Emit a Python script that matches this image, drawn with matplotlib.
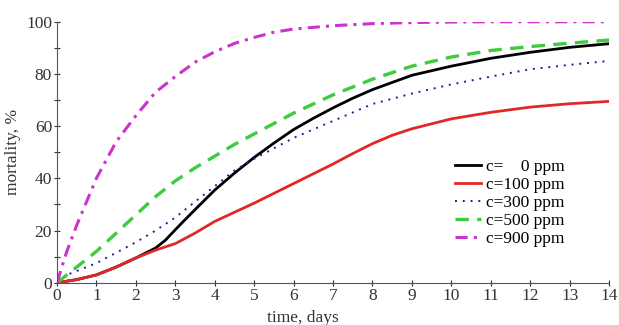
import matplotlib.pyplot as plt
import numpy as np

plt.rcParams['font.family'] = ['Liberation Serif', 'DejaVu Serif']

# values
t_c0 = [0, 0.5, 1, 1.5, 2, 2.5, 2.75, 3, 3.25, 3.5, 4, 4.5, 5, 5.5, 6, 6.5, 7, 7.5, 8, 9, 10, 11, 12, 13, 14]
m_c0 = [0, 1.2, 3, 6, 9.5, 13.3, 16.3, 20.3, 24.2, 28, 35.5, 42, 48, 53.5, 58.7, 63, 67, 70.7, 74, 79.5, 83, 86, 88.3, 90.2, 91.6]

t_c100 = [0, 0.5, 1, 1.5, 2, 2.5, 3, 3.5, 4, 5, 6, 7, 7.5, 8, 8.5, 9, 10, 11, 12, 13, 14]
m_c100 = [0, 1.2, 3, 6, 9.5, 12.5, 15, 19, 23.5, 30.5, 38, 45.5, 49.5, 53.3, 56.5, 59, 62.8, 65.3, 67.3, 68.6, 69.5]

t_c300 = [0, 0.25, 0.5, 1, 1.5, 2, 2.5, 3, 3.5, 4, 4.5, 5, 6, 7, 8, 9, 10, 11, 12, 13, 14]
m_c300 = [0, 3, 4.5, 7.5, 11.5, 15.5, 20, 25, 31, 37, 43, 47.5, 55.5, 62, 68.5, 72.5, 76, 79, 81.8, 83.5, 85]

t_c500 = [0, 0.25, 0.5, 1, 1.5, 2, 2.5, 3, 3.5, 4, 4.5, 5, 6, 7, 8, 9, 10, 11, 12, 13, 14]
m_c500 = [0, 3, 6, 12, 19, 26, 33, 39, 44, 48.5, 53, 57, 65, 72, 78, 83, 86.5, 89, 90.5, 91.8, 93]

t_c900 = [0, 0.25, 0.5, 1, 1.5, 2, 2.5, 3, 3.5, 4, 4.5, 5, 5.5, 6, 7, 8, 9, 10, 11, 12, 13, 14]
m_c900 = [0, 12, 22, 40, 54, 64, 73, 79, 84.5, 88.5, 91.7, 94, 96, 97.2, 98.5, 99.3, 99.7, 99.9, 100, 100, 100, 100]

labels = ['c=    0 ppm', 'c=100 ppm', 'c=300 ppm', 'c=500 ppm', 'c=900 ppm']

fig = plt.figure(figsize=(6.19, 3.25), dpi=100)
ax = fig.add_axes([0.092, 0.130, 0.892, 0.803])

ax.plot(t_c0, m_c0, color='black', lw=2.0, label=labels[0])
ax.plot(t_c100, m_c100, color='#e02828', lw=2.0, label=labels[1])
ax.plot(t_c300, m_c300, color='#202090', lw=1.4, ls=(0, (1, 3)), label=labels[2])
ax.plot(t_c500, m_c500, color='#3ccc3c', lw=2.4, ls=(0, (4, 2.5)), label=labels[3])
ax.plot(t_c900, m_c900, color='#cc33cc', lw=2.2, ls=(0, (4, 2, 1, 2)), label=labels[4])

ax.set_xlim(0, 14)
ax.set_ylim(0, 100)
ax.set_xticks(np.arange(0, 15, 1))
ax.set_yticks(np.arange(0, 101, 20))
ax.set_yticks(np.arange(0, 101, 10), minor=True)
ax.tick_params(axis='both', which='both', direction='inout', length=5, width=0.8,
               labelsize=12.5, pad=1, colors='#333333')
ax.tick_params(axis='y', which='minor', length=4)

for s in ['top', 'right']:
    ax.spines[s].set_visible(False)
for s in ['left', 'bottom']:
    ax.spines[s].set_color('#555555')

ax.set_xlabel('time, days', fontsize=12.5, color='#333333')
ax.xaxis.set_label_coords(0.445, -0.105)
ax.set_ylabel('mortality, %', fontsize=12.5, color='#333333')
ax.yaxis.set_label_coords(-0.065, 0.5)

ax.legend(loc='lower right', bbox_to_anchor=(0.935, 0.105), frameon=False, fontsize=12.5,
          handlelength=1.5, handletextpad=0.3, labelspacing=0.1, borderpad=0)

fig.savefig('out.png', dpi=100)
